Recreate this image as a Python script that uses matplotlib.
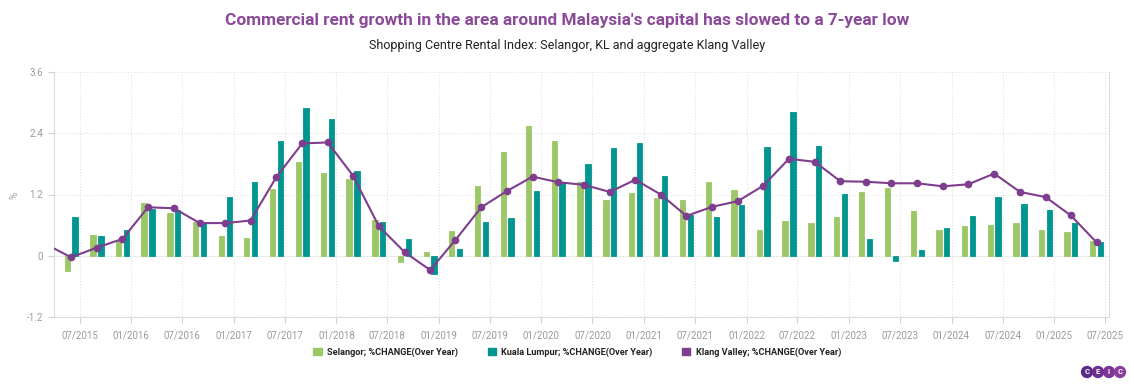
import pandas as pd
import matplotlib.pyplot as plt
import matplotlib.dates as mdates
from matplotlib.patches import Patch
import numpy as np

plt.rcParams['font.family'] = ['Roboto', 'DejaVu Sans']

# quarterly observations, plotted at the first day of the quarter's last month
quarters = pd.date_range('2015-03-01', '2025-06-01', freq='3MS')

selangor = [np.nan, -0.30, 0.41, 0.30, 1.03, 0.83, 0.66, 0.39, 0.35, 1.31, 1.84, 1.63,
            1.50, 0.70, -0.13, 0.07, 0.48, 1.36, 2.03, 2.55, 2.24, 1.44, 1.09, 1.23,
            1.14, 1.09, 1.45, 1.29, 0.51, 0.69, 0.65, 0.75, 1.25, 1.33, 0.87, 0.50,
            0.58, 0.60, 0.65, 0.51, 0.47, 0.28]
kuala_lumpur = [np.nan, 0.75, 0.39, 0.50, 0.91, 0.89, 0.64, 1.15, 1.45, 2.24, 2.90, 2.67,
                1.66, 0.66, 0.33, -0.36, 0.13, 0.66, 0.74, 1.27, 1.43, 1.80, 2.11, 2.20,
                1.57, 0.79, 0.76, 0.99, 2.14, 2.82, 2.15, 1.21, 0.33, -0.10, 0.12, 0.54,
                0.77, 1.15, 1.02, 0.89, 0.65, 0.26]
klang_valley = [0.23, -0.03, 0.16, 0.33, 0.95, 0.93, 0.64, 0.64, 0.69, 1.54, 2.20, 2.22,
                1.57, 0.58, 0.07, -0.28, 0.31, 0.95, 1.27, 1.55, 1.44, 1.39, 1.25, 1.49,
                1.20, 0.78, 0.96, 1.07, 1.37, 1.90, 1.84, 1.46, 1.45, 1.42, 1.42, 1.36,
                1.40, 1.61, 1.25, 1.15, 0.79, 0.26]

labels = ['Selangor; %CHANGE(Over Year)', 'Kuala Lumpur; %CHANGE(Over Year)',
          'Klang Valley; %CHANGE(Over Year)']
green = '#9cc766'
teal = '#01958f'
purple = '#7e3d8e'
grey = '#9a9a9a'

fig = plt.figure(figsize=(11.34, 3.87), dpi=100)
ax = fig.add_axes([54 / 1134, 1 - 317 / 387, (1109 - 54) / 1134, (317 - 72) / 387])

off = pd.Timedelta(days=14)
w = 19
ax.bar(quarters - off, selangor, width=w, color=green, edgecolor=green,
       linewidth=0.6, joinstyle='round', zorder=2)
ax.bar(quarters + off, kuala_lumpur, width=w, color=teal, edgecolor=teal,
       linewidth=0.6, joinstyle='round', zorder=2)
ax.plot(quarters, klang_valley, color=purple, linewidth=1.5, marker='o',
        markersize=4.5, zorder=3)

ax.set_xlim(pd.Timestamp('2015-04-01'), pd.Timestamp('2025-07-15'))
ax.set_ylim(-1.2, 3.6)
ax.set_yticks([-1.2, 0, 1.2, 2.4, 3.6])
ax.set_yticklabels(['-1.2', '0', '1.2', '2.4', '3.6'])
xt = pd.date_range('2015-07-01', '2025-07-01', freq='6MS')
ax.set_xticks(xt)
ax.xaxis.set_major_formatter(mdates.DateFormatter('%m/%Y'))

ax.tick_params(axis='both', colors='#d0d0d0', labelcolor=grey, labelsize=7, length=4)
ax.tick_params(axis='x', pad=6)
ax.tick_params(axis='y', pad=4)
ax.grid(True, color='#e2e2e2', linestyle=':', linewidth=0.8, zorder=0)
ax.axhline(0, color='#f0f0f0', linewidth=0.8, zorder=1)
for s in ['left', 'bottom', 'right']:
    ax.spines[s].set_color('#dcdcdc')
ax.spines['top'].set_visible(False)
fig.text(15 / 1134, 1 - 195 / 387, '%', rotation=90, ha='center', va='center',
         color=grey, fontsize=7)

fig.text(0.5, 1 - 20 / 387, "Commercial rent growth in the area around Malaysia's capital has slowed to a 7-year low",
         ha='center', va='center', fontsize=12.4, fontweight='bold', color='#8b4a99')
fig.text(0.5, 1 - 45 / 387, 'Shopping Centre Rental Index: Selangor, KL and aggregate Klang Valley',
         ha='center', va='center', fontsize=9, color='#222222')

handles = [Patch(facecolor=c, edgecolor=c) for c in [green, teal, purple]]
fig.legend(handles, labels, loc='center', bbox_to_anchor=(0.509, 1 - 352 / 387), ncol=3,
           frameon=False, prop={'size': 6.6, 'weight': 'bold'}, handlelength=0.9,
           handleheight=0.9, columnspacing=3.2, handletextpad=0.6, labelcolor='#222222')

# CEIC logo
for i, (ch, col) in enumerate(zip('CEIC', ['#5b2a86', '#6b2f8f', '#7a3595', '#8b3d9e'])):
    fig.text((1087 + i * 11) / 1134, 1 - 372 / 387, ch, ha='center', va='center',
             fontsize=5.5, color='white', fontweight='bold',
             bbox=dict(boxstyle='circle,pad=0.35', facecolor=col, edgecolor='none'))

fig.savefig('out.png', dpi=100)
